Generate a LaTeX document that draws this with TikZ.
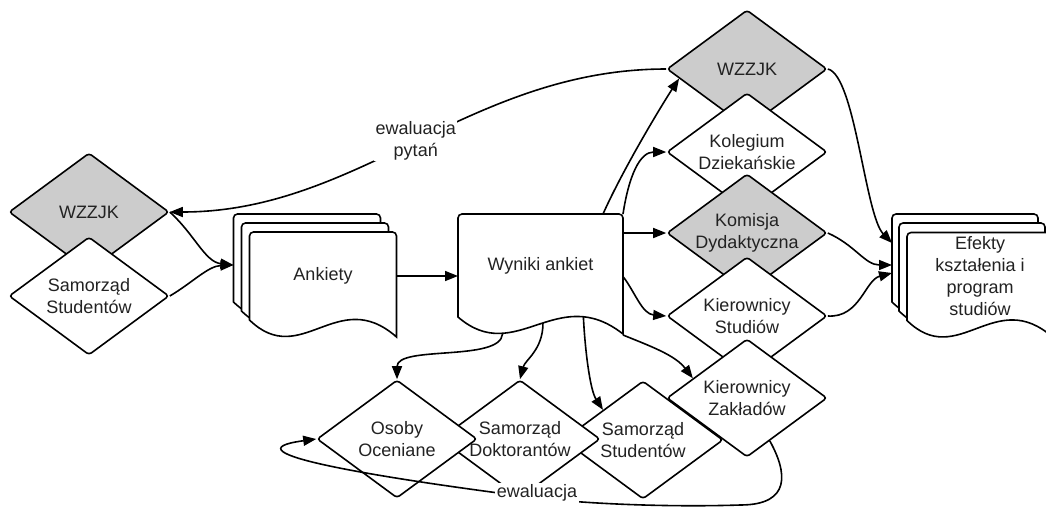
\documentclass[tikz,border=0pt]{standalone}
\usepackage{fontspec}
\setmainfont{Liberation Sans}
\usetikzlibrary{shapes.geometric,arrows.meta,calc}
\definecolor{grayfill}{HTML}{CCCCCC}
\definecolor{txt}{HTML}{222222}
\makeatletter
\newdimen\wdxa \newdimen\wdya \newdimen\wdxb \newdimen\wdyb \newdimen\wdw
\pgfdeclareshape{wavedoc}{%
  \inheritsavedanchors[from=rectangle]%
  \inheritanchorborder[from=rectangle]%
  \inheritanchor[from=rectangle]{center}%
  \inheritanchor[from=rectangle]{north}%
  \inheritanchor[from=rectangle]{south}%
  \inheritanchor[from=rectangle]{east}%
  \inheritanchor[from=rectangle]{west}%
  \inheritanchor[from=rectangle]{north east}%
  \inheritanchor[from=rectangle]{north west}%
  \inheritanchor[from=rectangle]{south east}%
  \inheritanchor[from=rectangle]{south west}%
  \inheritanchor[from=rectangle]{mid}%
  \inheritanchor[from=rectangle]{base}%
  \backgroundpath{%
    \southwest \global\wdxa=\pgf@x \global\wdya=\pgf@y
    \northeast \global\wdxb=\pgf@x \global\wdyb=\pgf@y
    \global\wdw=\wdxb \global\advance\wdw by -\wdxa
    \pgfpathmoveto{\pgfqpoint{\wdxa}{\wdya}}%
    \pgfpathlineto{\pgfpoint{\wdxa}{\wdyb-4pt}}%
    \pgfpatharc{180}{90}{4pt}%
    \pgfpathlineto{\pgfpoint{\wdxb-4pt}{\wdyb}}%
    \pgfpatharc{90}{0}{4pt}%
    \pgfpathlineto{\pgfpoint{\wdxb}{\wdya-17pt}}%
    \pgfpathcurveto{\pgfpoint{\wdxa+0.6*\wdw}{\wdya+35pt}}{\pgfpoint{\wdxa+0.35*\wdw}{\wdya-50pt}}{\pgfqpoint{\wdxa}{\wdya}}%
    \pgfpathclose
  }%
}
\makeatother
\begin{document}
\begin{tikzpicture}[x=1pt,y=-1pt,
  every node/.style={font=\fontsize{18}{22}\selectfont, text=txt},
  dia/.style={shape=diamond, draw, line width=1.6pt, fill=white, minimum width=160pt, minimum height=118pt, inner sep=0pt, shape aspect=1.356, rounded corners=3pt, align=center},
  grey/.style={fill=grayfill},
  doc/.style={shape=wavedoc, draw, line width=1.6pt, fill=white, minimum height=88pt, inner sep=0pt, outer sep=0pt, align=center},
  conn/.style={line width=1.6pt, -{Triangle[length=13pt,width=10pt]}},
  lbl/.style={fill=white, inner sep=1.5pt, align=center}]
\useasboundingbox (0,0) rectangle (1046,507);
% left diamonds
\node[dia,grey] (wzzL) at (89,212) {WZZJK};
\node[dia] (samL) at (89,296) {Samorząd\\Studentów};
% Ankiety stack
\node[doc, minimum width=147pt] (ank3) at (307,258) {};
\node[doc, minimum width=147pt] (ank2) at (315,267) {};
\node[doc, minimum width=147pt] (ank) at (323,276) {Ankiety};
% Wyniki
\node[doc, minimum width=165pt, minimum height=103pt] (wyn) at (540.5,265.5) {Wyniki ankiet};
% right column
\node[dia,grey] (wzzR) at (747,69) {WZZJK};
\node[dia] (kol) at (747,152) {Kolegium\\Dziekańskie};
\node[dia,grey] (kom) at (747,233) {Komisja\\Dydaktyczna};
\node[dia] (kst) at (747,316) {Kierownicy\\Studiów};
\node[dia] (kzak) at (747,398) {Kierownicy\\Zakładów};
% bottom row
\node[dia] (sstu) at (643,440) {Samorząd\\Studentów};
\node[dia] (sdok) at (520,439) {Samorząd\\Doktorantów};
\node[dia] (oso) at (397,439) {Osoby\\Oceniane};
% Efekty stack
\node[doc, minimum width=146pt] (efk3) at (965,258) {};
\node[doc, minimum width=146pt] (efk2) at (972,267) {};
\node[doc, minimum width=146pt] (efk) at (980,276.5) {\raisebox{3pt}{\parbox{140pt}{\centering Efekty\\kształenia i\\program\\studiów}}};
% connectors
\draw[conn] (wzzR.west) .. controls (470,69) and (360,212) .. (wzzL.east) node[lbl, midway] (lab1) {ewaluacja\\pytań};
\draw[conn] (wzzL.east) .. controls (195,235) and (205,262) .. ([yshift=-7pt]ank3.west);
\draw[conn] (samL.east) .. controls (192,283) and (208,266) .. ([yshift=-7pt]ank3.west);
\draw[conn] (ank.east) -- (ank.east -| wyn.west);
\draw[conn] ([xshift=-20pt]wyn.north east) .. controls (625,165) and (665,100) .. (wzzR.188);
\draw[conn] (wyn.north east) .. controls (629,175) and (640,152) .. (kol.west);
\draw[conn] (wyn.east |- kom.west) -- (kom.west);
\draw[conn] ([yshift=-11pt]wyn.east) .. controls (635,292) and (642,314) .. (kst.west);
\draw[conn] ([yshift=-18pt]wyn.south east) .. controls (650,346) and (675,355) .. (kzak.160);
\draw[conn] ($(wyn.south west)!0.76!(wyn.south east)$) .. controls (585,350) and (590,390) .. (sstu.143);
\draw[conn] ([yshift=-6pt]$(wyn.south west)!0.515!(wyn.south east)$) .. controls (543,350) and (525,360) .. (sdok.north);
\draw[conn] ([yshift=-17pt]$(wyn.south west)!0.27!(wyn.south east)$) .. controls (500,362) and (397,345) .. (oso.north);
\draw[conn] (wzzR.east) .. controls (855,75) and (865,215) .. ([yshift=15pt]efk3.west);
\draw[conn] (kom.east) .. controls (855,245) and (865,265) .. ([yshift=-7pt]efk3.west);
\draw[conn] (kst.east) .. controls (860,318) and (865,280) .. ([yshift=-15pt]efk3.west);
\coordinate (ewc) at (537,498);
\draw[conn] (kzak.298) .. controls (787,472) and (792,505) .. (740,505) .. controls (680,507) and (600,505) .. (ewc) .. controls (380,478) and (220,452) .. (oso.west);
\node[lbl] (ewal) at (537,493) {ewaluacja};
\end{tikzpicture}
\end{document}
